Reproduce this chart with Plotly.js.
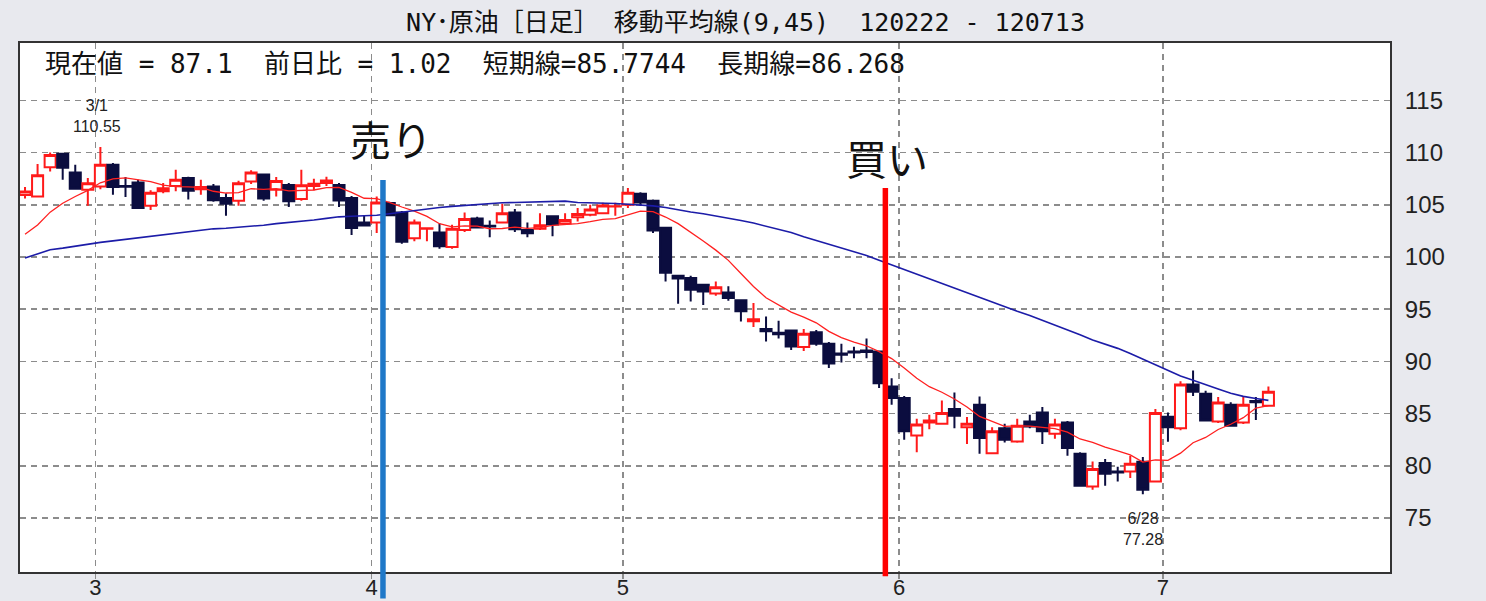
<!DOCTYPE html>
<html><head><meta charset="utf-8">
<script src="https://cdn.plot.ly/plotly-3.0.1.min.js"></script>
<style>html,body{margin:0;padding:0;background:#e8e9ee;}#chart{width:1486px;height:601px;}</style>
</head><body><div id="chart"></div>
<script>
// ---- data ----
const dates = ['02/22','02/23','02/24','02/27','02/28','02/29',
'03/01','03/02','03/05','03/06','03/07','03/08','03/09','03/12','03/13','03/14','03/15','03/16','03/19','03/20','03/21','03/22','03/23','03/26','03/27','03/28','03/29','03/30',
'04/02','04/03','04/04','04/05','04/09','04/10','04/11','04/12','04/13','04/16','04/17','04/18','04/19','04/20','04/23','04/24','04/25','04/26','04/27','04/30',
'05/01','05/02','05/03','05/04','05/07','05/08','05/09','05/10','05/11','05/14','05/15','05/16','05/17','05/18','05/21','05/22','05/23','05/24','05/25','05/29','05/30','05/31',
'06/01','06/04','06/05','06/06','06/07','06/08','06/11','06/12','06/13','06/14','06/15','06/18','06/19','06/20','06/21','06/22','06/25','06/26','06/27','06/28','06/29',
'07/02','07/03','07/05','07/06','07/09','07/10','07/11','07/12','07/13'];
const openP = [105.95,105.8,108.6,109.9,108.1,106.45,
106.76,108.85,106.8,107.15,104.9,106.3,106.8,107.56,106.5,106.76,105.65,105.4,107.24,107.9,106.45,106.9,105.56,106.8,107.1,106.9,105.65,103.3,
103.3,105.17,104.27,101.8,102.7,102.36,100.95,102.6,103.7,103.0,103.3,104.27,102.6,102.7,103.9,103.2,103.8,104.05,104.2,104.85,
105.0,106.06,105.4,102.8,98.2,98.0,97.35,96.5,96.6,95.85,93.85,93.1,92.75,92.97,91.38,92.8,91.7,90.75,90.95,91.05,90.96,87.6,
86.5,82.9,84.15,84.03,85.44,83.7,85.85,81.2,83.6,82.34,84.25,85.1,83.07,84.16,81.15,78.03,80.27,79.45,79.46,80.4,78.5,
84.7,83.6,87.8,86.9,84.25,85.85,84.15,86.2,85.75];
const highP = [106.7,108.9,110.0,109.95,108.84,107.57,
110.55,109.0,107.66,107.4,106.4,107.1,108.36,107.7,107.4,107.0,106.1,107.3,108.3,108.0,107.66,107.1,108.36,107.5,107.7,107.1,105.85,104.0,
105.8,105.3,104.4,103.6,102.8,103.2,103.1,104.27,103.85,103.5,105.1,104.6,103.3,104.2,103.9,104.2,104.7,105.0,105.2,105.2,
106.6,106.2,105.5,102.9,98.3,98.2,97.45,97.66,97.2,95.85,95.6,94.3,93.9,92.97,93.1,93.0,91.85,91.7,91.4,92.2,90.96,88.4,
86.7,84.5,84.9,86.26,87.03,84.67,86.65,83.7,84.03,84.5,84.9,85.63,84.5,84.3,81.3,80.42,80.65,79.9,80.97,80.85,85.44,
85.1,88.1,89.14,87.2,86.6,86.1,86.6,86.6,87.6];
const lowP = [105.6,105.7,108.2,107.4,106.45,104.9,
106.5,105.97,105.75,104.6,104.5,106.1,106.3,105.5,105.97,105.3,103.96,104.9,107.0,105.4,105.8,104.8,105.4,106.4,106.8,104.8,102.1,102.95,
102.3,103.9,101.27,101.5,101.5,100.8,100.8,102.4,102.8,101.9,103.2,102.4,101.9,102.6,102.0,103.1,103.4,103.9,104.1,103.95,
104.7,104.9,102.3,97.66,95.53,95.75,95.4,96.3,95.8,93.83,93.3,91.9,92.2,91.1,91.0,91.5,89.37,89.9,90.3,90.3,87.45,85.85,
82.5,81.3,83.5,84.0,83.6,82.1,81.15,81.1,82.24,82.2,83.6,82.1,82.6,80.97,78.0,77.7,78.1,78.5,78.83,77.28,78.4,
82.3,83.4,86.7,84.3,84.1,83.75,84.0,84.4,85.7];
const closeP = [106.28,107.83,109.77,108.56,106.55,107.07,
108.84,106.70,106.72,104.70,106.16,106.58,107.40,106.34,106.71,105.43,105.11,107.06,108.09,105.61,107.27,105.35,106.87,107.03,107.33,105.41,102.78,103.02,
105.23,104.01,101.47,103.31,102.75,101.02,102.70,103.64,102.83,102.93,104.20,102.67,102.27,103.05,103.11,103.55,104.12,104.55,104.93,104.87,
106.16,105.22,102.54,98.49,97.94,96.87,96.7,97.1,96.07,94.8,94.05,92.9,92.6,91.44,92.65,91.7,89.8,90.64,90.86,90.9,87.9,86.5,
83.3,83.95,84.35,85.05,84.8,84.03,82.66,83.3,82.5,83.84,83.77,83.3,83.95,81.7,78.1,79.7,79.24,79.36,80.2,77.7,85.05,
83.7,87.8,87.1,84.35,86.07,83.84,85.85,86.08,87.1];
// short moving average (9) and long moving average (45)
const maShort = [102.18,103.07,104.30,105.15,105.80,106.38,
107.11,107.49,107.59,107.42,107.23,106.88,106.75,106.72,106.68,106.30,106.13,106.17,106.54,106.48,106.56,106.33,106.39,106.42,106.64,106.67,106.19,105.63,
105.59,105.23,104.79,104.40,103.89,103.19,102.89,102.98,102.96,102.71,102.73,102.86,102.75,102.81,103.04,103.14,103.19,103.38,103.61,103.68,
104.07,104.40,104.34,103.83,103.20,102.40,101.53,100.66,99.68,98.42,97.17,96.10,95.45,94.72,94.25,93.70,92.88,92.28,91.84,91.50,90.94,90.27,
89.36,88.39,87.58,87.05,86.40,85.64,84.73,84.22,83.77,83.83,83.81,83.69,83.57,83.23,82.57,82.24,81.79,81.44,81.04,80.36,80.56,
80.53,81.21,82.21,82.72,83.48,83.98,84.61,85.54,85.7744];
const maLong = [99.9,100.3,100.7,100.85,101.05,101.25,
101.4,101.55,101.7,101.85,101.97,102.1,102.3,102.45,102.6,102.7,102.75,102.85,102.9,103.05,103.2,103.3,103.4,103.55,103.7,103.85,103.9,103.95,
104.0,104.15,104.3,104.5,104.65,104.75,104.85,104.95,105.0,105.1,105.2,105.22,105.25,105.3,105.38,105.35,105.22,105.2,105.18,105.12,
105.05,104.98,104.9,104.75,104.5,104.32,104.15,103.95,103.75,103.5,103.25,102.95,102.65,102.35,101.95,101.6,101.25,100.9,100.5,100.15,99.7,99.25,
98.8,98.35,97.9,97.45,97.0,96.55,96.1,95.65,95.25,94.8,94.4,93.95,93.5,93.05,92.55,92.05,91.65,91.25,90.75,90.2,89.65,
89.1,88.6,88.2,87.75,87.35,86.95,86.65,86.45,86.268];
const yTicks = [75,80,85,90,95,100,105,110,115];
const signals = [
  {date:'04/02', label:'売り', color:'#1f78c8'},
  {date:'05/30', label:'買い', color:'#ff0000'}
];
const titleText = 'NY･原油［日足］ 移動平均線(9,45)\u00a0\u00a0120222 - 120713';
const infoText = '現在値 = 87.1\u00a0\u00a0前日比 = 1.02\u00a0\u00a0短期線=85.7744\u00a0\u00a0長期線=86.268';

// ---- build ----
const xs = dates.map((d, i) => i);
const tickVals = [], tickText = [];
dates.forEach((d, i) => {
  if (i > 0 && d.slice(0,2) !== dates[i-1].slice(0,2)) {
    tickVals.push(i - 0.4); tickText.push(String(parseInt(d.slice(0,2), 10)));
  }
});
const navy = '#0b0d3f';
const traces = [
  {type:'candlestick', x:xs, open:openP, high:highP, low:lowP, close:closeP,
   increasing:{line:{color:'#ff1a1a', width:2}, fillcolor:'#ffffff'},
   decreasing:{line:{color:navy, width:2}, fillcolor:navy},
   whiskerwidth:0, hoverinfo:'skip', showlegend:false},
  {type:'scatter', mode:'lines', x:xs, y:maShort, line:{color:'#ff2020', width:1.3}, hoverinfo:'skip', showlegend:false},
  {type:'scatter', mode:'lines', x:xs, y:maLong, line:{color:'#1c1ca8', width:1.6}, hoverinfo:'skip', showlegend:false}
];

const hiIdx = highP.indexOf(Math.max(...highP));
const loIdx = lowP.indexOf(Math.min(...lowP));
const mono = 'DejaVu Sans Mono, Noto Sans CJK JP, monospace';
const annotations = [
  {xref:'paper', yref:'paper', x:0.0168, y:0.960, xanchor:'left', yanchor:'middle', showarrow:false,
   text:infoText, font:{family:mono, size:26, color:'#111'}},
  {xref:'x', yref:'y', x:hiIdx, y:highP[hiIdx], xanchor:'center', yanchor:'bottom', yshift:10, xshift:-3, showarrow:false,
   text: parseInt(dates[hiIdx].slice(0,2),10)+'/'+parseInt(dates[hiIdx].slice(3),10)+'<br>'+highP[hiIdx].toFixed(2),
   font:{family:'Liberation Sans, Arial, sans-serif', size:16, color:'#222'}},
  {xref:'x', yref:'y', x:loIdx, y:lowP[loIdx], xanchor:'center', yanchor:'top', yshift:-14, showarrow:false,
   text: parseInt(dates[loIdx].slice(0,2),10)+'/'+parseInt(dates[loIdx].slice(3),10)+'<br>'+lowP[loIdx].toFixed(2),
   font:{family:'Liberation Sans, Arial, sans-serif', size:16, color:'#222'}}
];
const shapes = [];
signals.forEach((s, k) => {
  const xi = dates.indexOf(s.date) + 0.5;
  shapes.push({type:'line', xref:'x', yref:'paper', x0:xi, x1:xi,
    y0: k === 0 ? -0.05 : -0.008, y1: k === 0 ? 0.741 : 0.726,
    line:{color:s.color, width:5.5}, layer:'above'});
  annotations.push({xref:'x', yref:'paper', x: xi + (k === 0 ? 0.6 : 0.1), y: k === 0 ? 0.82 : 0.785,
    xanchor:'center', yanchor:'middle', showarrow:false, text:s.label,
    font:{family:'Noto Sans CJK JP, sans-serif', size:41, color:'#111'}});
});

const gridDash = '6px,5px';
const layout = {
  width:1486, height:601,
  paper_bgcolor:'#e8e9ee', plot_bgcolor:'#ffffff',
  margin:{l:20, r:96, t:43, b:29},
  title:{text:titleText, x:0.5017, xanchor:'center', y:0.963, yanchor:'middle',
         font:{family:mono, size:25, color:'#111'}},
  showlegend:false,
  boxgap:0.12, boxgroupgap:0,
  xaxis:{type:'linear', range:[-0.4, 108.68], tickvals:tickVals, ticktext:tickText,
         showgrid:true, gridcolor:'#8c8c8c', gridwidth:1.5, griddash:gridDash,
         ticks:'outside', ticklen:5, tickcolor:'#8c8c8c', tickwidth:1.5, ticklabelstandoff:-10,
         showline:true, linecolor:'#333', linewidth:2, mirror:true, zeroline:false,
         rangeslider:{visible:false}, fixedrange:true,
         tickfont:{family:'Liberation Sans, Arial, sans-serif', size:22, color:'#222'}},
  yaxis:{range:[69.83, 120.5], side:'right', tickvals:yTicks,
         showgrid:true, gridcolor:'#8c8c8c', gridwidth:1.5, griddash:gridDash,
         ticks:'', ticklabelstandoff:8,
         showline:true, linecolor:'#333', linewidth:2, mirror:true, zeroline:false, fixedrange:true,
         tickfont:{family:'Liberation Sans, Arial, sans-serif', size:24, color:'#222'}},
  annotations:annotations, shapes:shapes
};
Plotly.newPlot('chart', traces, layout, {staticPlot:true, displayModeBar:false});
</script></body></html>
